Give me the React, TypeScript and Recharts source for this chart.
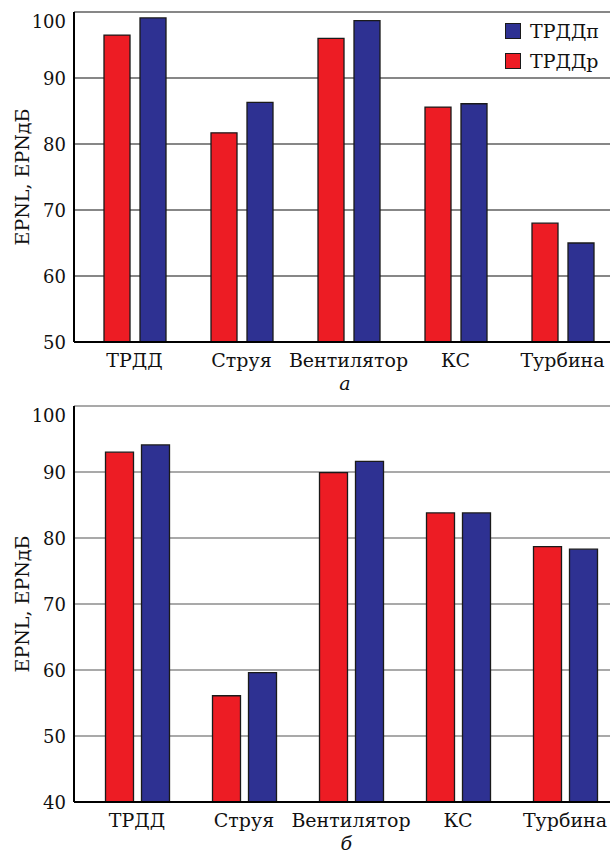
import { BarChart, Bar, XAxis, YAxis, CartesianGrid, Label } from 'recharts';

const CATEGORIES = ['ТРДД', 'Струя', 'Вентилятор', 'КС', 'Турбина'];

// панель а
const TOP_RDR = [96.5, 81.7, 96.0, 85.6, 68.0];
const TOP_RDP = [99.1, 86.3, 98.7, 86.1, 65.0];
const TOP_TICKS = [50, 60, 70, 80, 90, 100];

// панель б
const BOTTOM_RDR = [93.0, 56.1, 89.9, 83.8, 78.7];
const BOTTOM_RDP = [94.1, 59.6, 91.6, 83.8, 78.3];
const BOTTOM_TICKS = [40, 50, 60, 70, 80, 90, 100];

const SERIES_RDP = 'ТРДДп';
const SERIES_RDR = 'ТРДДр';
const Y_TITLE = 'EPNL, EPNдБ';

const RED = '#ED1C24';
const BLUE = '#2E3192';
const OUTLINE = '#1a1a1a';
const FONT = '"DejaVu Serif", serif';

const topData = CATEGORIES.map((name, i) => ({ name, rdr: TOP_RDR[i], rdp: TOP_RDP[i] }));
const bottomData = CATEGORIES.map((name, i) => ({ name, rdr: BOTTOM_RDR[i], rdp: BOTTOM_RDP[i] }));

const xTickStyle = { fontSize: 19, fill: '#111', fontFamily: FONT };

// верхняя метка оси опущена под рамку, остальные по центру линии
function YTick({ x, y, payload, top }: any) {
  const dy = payload.value === top ? 9 : 0;
  return (
    <text x={x} y={y + dy} textAnchor="end" dominantBaseline="central" fontSize={18} fontFamily={FONT} fill="#111">
      {payload.value}
    </text>
  );
}

function YTitle({ viewBox }: any) {
  const cy = viewBox.y + viewBox.height / 2;
  return (
    <text
      x={22}
      y={cy}
      transform={`rotate(-90, 22, ${cy})`}
      textAnchor="middle"
      dominantBaseline="central"
      fontSize={19}
      fontFamily={FONT}
      fill="#111"
    >
      {Y_TITLE}
    </text>
  );
}

function Caption({ viewBox, text }: any) {
  const cx = viewBox.x + viewBox.width / 2;
  return (
    <text x={cx} y={viewBox.y + 48} textAnchor="middle" fontSize={19} fontStyle="italic" fontFamily={FONT} fill="#111">
      {text}
    </text>
  );
}

function LegendBox() {
  const items = [
    { label: SERIES_RDP, color: BLUE },
    { label: SERIES_RDR, color: RED },
  ];
  return (
    <div style={{ position: 'absolute', left: 505, top: 16, fontFamily: FONT, fontSize: 19, color: '#111' }}>
      {items.map((it) => (
        <div key={it.label} style={{ display: 'flex', alignItems: 'center', height: 30 }}>
          <span
            style={{
              display: 'inline-block',
              width: 14,
              height: 14,
              background: it.color,
              border: `1.5px solid ${OUTLINE}`,
              marginRight: 9,
            }}
          />
          <span>{it.label}</span>
        </div>
      ))}
    </div>
  );
}

type PanelProps = {
  data: typeof topData;
  ticks: number[];
  height: number;
  marginTop: number;
  padLeft: number;
  barSize: number;
  barGap: number;
  gridColor: string;
  caption: string;
};

function Panel({ data, ticks, height, marginTop, padLeft, barSize, barGap, gridColor, caption }: PanelProps) {
  const width = 74 + padLeft + 535;
  const top = ticks[ticks.length - 1];
  return (
    <BarChart
      width={width}
      height={height}
      data={data}
      margin={{ top: marginTop, right: 0, bottom: 0, left: 0 }}
      barSize={barSize}
      barGap={barGap}
    >
      <CartesianGrid vertical={false} stroke={gridColor} strokeWidth={1.2} />
      <XAxis
        dataKey="name"
        tick={xTickStyle}
        tickLine={false}
        tickMargin={6}
        axisLine={{ stroke: '#000', strokeWidth: 2 }}
        height={height - marginTop - (ticks.length - 1) * 66}
        padding={{ left: padLeft, right: 0 }}
        interval={0}
      >
        <Label content={(p: any) => <Caption {...p} text={caption} />} />
      </XAxis>
      <YAxis
        domain={[ticks[0], top]}
        ticks={ticks}
        tick={(p: any) => <YTick {...p} top={top} />}
        tickLine={false}
        axisLine={{ stroke: '#000', strokeWidth: 2 }}
        width={74}
        interval={0}
      >
        <Label content={(p: any) => <YTitle {...p} />} />
      </YAxis>
      <Bar dataKey="rdr" name={SERIES_RDR} fill={RED} stroke={OUTLINE} strokeWidth={1.3} isAnimationActive={false} />
      <Bar dataKey="rdp" name={SERIES_RDP} fill={BLUE} stroke={OUTLINE} strokeWidth={1.3} isAnimationActive={false} />
    </BarChart>
  );
}

export default function App() {
  return (
    <div style={{ position: 'absolute', left: 0, top: 0, width: 610, height: 854, overflow: 'hidden', background: '#fff' }}>
      <div style={{ position: 'absolute', left: 0, top: 0 }}>
        <Panel
          data={topData}
          ticks={TOP_TICKS}
          height={400}
          marginTop={12}
          padLeft={7}
          barSize={26}
          barGap={10}
          gridColor="#111"
          caption="а"
        />
        <LegendBox />
      </div>
      <div style={{ position: 'absolute', left: 0, top: 400 }}>
        <Panel
          data={bottomData}
          ticks={BOTTOM_TICKS}
          height={454}
          marginTop={6}
          padLeft={9.5}
          barSize={28}
          barGap={8}
          gridColor="#555"
          caption="б"
        />
      </div>
    </div>
  );
}
